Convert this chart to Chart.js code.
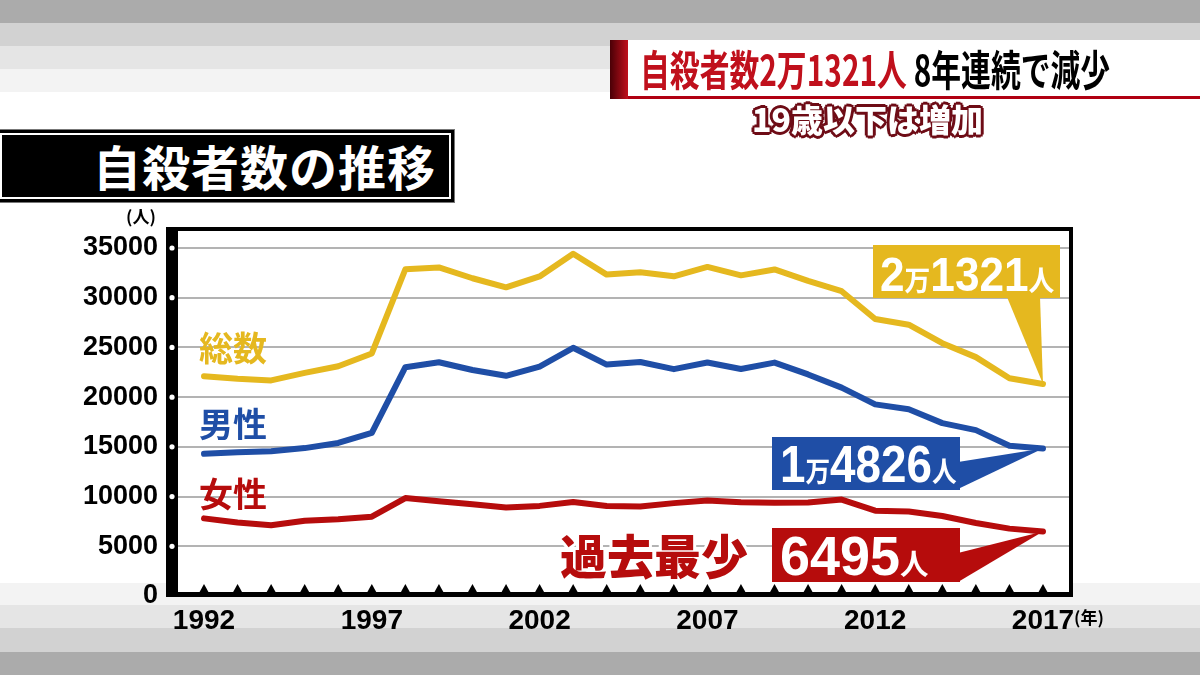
<!DOCTYPE html>
<html>
<head>
<meta charset="utf-8">
<script src="https://cdn.jsdelivr.net/npm/chart.js@4.4.1/dist/chart.umd.min.js"></script>
<style>
  html, body { margin: 0; padding: 0; }
  body {
    width: 1200px; height: 675px; position: relative; overflow: hidden;
    font-family: "Noto Sans CJK JP", sans-serif;
    background: linear-gradient(to bottom,
      #ababab 0, #ababab 23px, #d2d2d2 23px, #d2d2d2 46px,
      #e5e5e5 46px, #e5e5e5 69px, #f3f3f3 69px, #f3f3f3 92px,
      #fff 92px, #fff 583px, #f3f3f3 583px, #f3f3f3 605px,
      #e5e5e5 605px, #e5e5e5 628px, #d2d2d2 628px, #d2d2d2 652px,
      #ababab 652px);
  }
  #chart { position: absolute; left: 0; top: 0; }
  #hdr {
    position: absolute; left: 610px; top: 40px; width: 590px; height: 56px;
    background: #fff; border-bottom: 3px solid #b00012;
  }
  #hdr .bar {
    position: absolute; left: 0; top: 0; width: 18px; height: 59px;
    background: linear-gradient(to right, #4a0006, #c0101c);
  }
  #hdr .txt {
    position: absolute; left: 30px; top: 0; line-height: 56px; white-space: nowrap;
    font-size: 42px; font-weight: 700; transform: scaleX(0.71); transform-origin: left center;
  }
  #sub {
    position: absolute; left: 752px; top: 97px; white-space: nowrap;
    font-size: 32px; font-weight: 900; color: #fff; line-height: 42px;
    text-shadow: 3px 0 0 #6e0c16, -3px 0 0 #6e0c16, 0 3px 0 #6e0c16, 0 -3px 0 #6e0c16,
      2px 2px 0 #6e0c16, -2px 2px 0 #6e0c16, 2px -2px 0 #6e0c16, -2px -2px 0 #6e0c16;
  }
  #ttl {
    position: absolute; left: -4px; top: 129px; width: 459px; height: 74px;
    background: #000; border: 1px solid #777; box-sizing: border-box;
  }
  #ttl .in {
    position: absolute; left: 3px; top: 3px; right: 3px; bottom: 3px;
    border: 2px solid #fff;
  }
  #ttl .txt {
    position: absolute; right: 18px; top: 0; line-height: 70px;
    color: #fff; font-size: 48px; font-weight: 700; letter-spacing: 1px;
  }
  .unit { position: absolute; font-size: 17px; font-weight: 700; color: #000; }
</style>
</head>
<body>
<canvas id="chart" width="1200" height="675"></canvas>
<div id="hdr"><div class="bar"></div><div class="txt"><span style="color:#c0101c">自殺者数2万1321人</span> 8年連続で減少</div></div>
<div id="sub">19歳以下は増加</div>
<div id="ttl"><div class="in"></div><div class="txt">自殺者数の推移</div></div>
<div class="unit" style="left:126px;top:203px;">(人)</div>
<div class="unit" style="left:1074px;top:604px;">(年)</div>
<script>
const years = [1992, 1993, 1994, 1995, 1996, 1997, 1998, 1999, 2000, 2001, 2002, 2003, 2004,
  2005, 2006, 2007, 2008, 2009, 2010, 2011, 2012, 2013, 2014, 2015, 2016, 2017];
const total = [22104, 21851, 21679, 22445, 23104, 24391, 32863, 33048, 31957, 31042, 32143, 34427, 32325,
  32552, 32155, 33093, 32249, 32845, 31690, 30651, 27858, 27283, 25427, 24025, 21897, 21321];
const male = [14296, 14468, 14560, 14874, 15393, 16416, 23013, 23512, 22727, 22144, 23080, 24963, 23272,
  23540, 22813, 23478, 22831, 23472, 22283, 20955, 19273, 18787, 17386, 16681, 15121, 14826];
const female = [7808, 7383, 7119, 7571, 7711, 7975, 9850, 9536, 9230, 8898, 9063, 9464, 9053,
  9012, 9342, 9615, 9418, 9373, 9407, 9696, 8585, 8496, 8041, 7344, 6776, 6495];
const xTicks = [1992, 1997, 2002, 2007, 2012, 2017];
const yTicks = [0, 5000, 10000, 15000, 20000, 25000, 30000, 35000];
const seriesNames = ["総数", "男性", "女性"];

const YELLOW = "#e5b81f";
const BLUE = "#1f4ea6";
const RED = "#b60c0c";

function pts(arr) {
  return years.map(function (y, i) { return { x: y, y: arr[i] }; });
}

// draws pieces of text with different sizes on one baseline
function richText(ctx, parts, x, base, sx) {
  ctx.save();
  ctx.translate(x, base);
  ctx.scale(sx, 1);
  ctx.textBaseline = "alphabetic";
  ctx.textAlign = "left";
  let cx = 0;
  parts.forEach(function (p) {
    ctx.font = "bold " + p[1] + "px " + p[2];
    ctx.fillText(p[0], cx, 0);
    cx += ctx.measureText(p[0]).width;
  });
  ctx.restore();
}

function callout(ctx, color, box, ptr, tip) {
  ctx.fillStyle = color;
  ctx.fillRect(box[0], box[1], box[2] - box[0], box[3] - box[1]);
  ctx.beginPath();
  ctx.moveTo(ptr[0], ptr[1]);
  ctx.lineTo(ptr[2], ptr[3]);
  ctx.lineTo(tip.x, tip.y);
  ctx.closePath();
  ctx.fill();
}

const framePlugin = {
  id: "frame",
  beforeDraw(chart) {
    const ctx = chart.ctx, a = chart.chartArea;
    ctx.save();
    ctx.fillStyle = "#fff";
    ctx.fillRect(a.left - 12, a.top - 21, a.right - a.left + 16, a.bottom - a.top + 22);
    ctx.restore();
  },
  beforeDatasetsDraw(chart) {
    const ctx = chart.ctx, a = chart.chartArea;
    const sx = chart.scales.x, sy = chart.scales.y;
    const L = a.left - 12, T = a.top - 21, W = a.right - a.left + 16, B = a.bottom + 1;
    ctx.save();
    ctx.fillStyle = "#000";
    ctx.fillRect(L, T, 12, B - T);
    ctx.fillRect(L, T, W, 4);
    ctx.fillRect(a.right, T, 4, B - T);
    ctx.fillRect(L, a.bottom - 4, W, 5);
    ctx.fillStyle = "#fff";
    yTicks.forEach(function (v) {
      if (v === 0) return;
      ctx.beginPath();
      ctx.arc(a.left - 6, sy.getPixelForValue(v), 2.6, 0, Math.PI * 2);
      ctx.fill();
    });
    ctx.fillStyle = "#000";
    years.forEach(function (yr) {
      const x = sx.getPixelForValue(yr);
      ctx.beginPath();
      ctx.moveTo(x - 5, a.bottom - 3);
      ctx.lineTo(x + 5, a.bottom - 3);
      ctx.lineTo(x, a.bottom - 12);
      ctx.closePath();
      ctx.fill();
    });
    ctx.restore();
  },
  afterDatasetsDraw(chart) {
    const ctx = chart.ctx;
    const sx = chart.scales.x, sy = chart.scales.y;
    const last = years.length - 1;
    const xe = sx.getPixelForValue(years[last]);
    const NUM = "'Liberation Sans', Arial, sans-serif";
    const JP = "'Noto Sans CJK JP', sans-serif";
    ctx.save();

    // series labels
    ctx.font = "bold 34px " + JP;
    ctx.textBaseline = "middle";
    ctx.textAlign = "left";
    ctx.fillStyle = YELLOW; ctx.fillText(seriesNames[0], 199, 348);
    ctx.fillStyle = BLUE; ctx.fillText(seriesNames[1], 199, 424);
    ctx.fillStyle = RED; ctx.fillText(seriesNames[2], 199, 494);

    // callouts
    callout(ctx, YELLOW, [873, 245, 1060, 298], [1007, 297, 1040, 297], { x: xe, y: sy.getPixelForValue(total[last]) });
    callout(ctx, BLUE, [772, 437, 960, 490], [958, 462, 958, 489], { x: xe, y: sy.getPixelForValue(male[last]) });
    callout(ctx, RED, [772, 528, 960, 582], [958, 553, 958, 582], { x: xe, y: sy.getPixelForValue(female[last]) });

    ctx.fillStyle = "#fff";
    richText(ctx, [["2", 48, NUM], ["万", 28, JP], ["1321", 48, NUM], ["人", 28, JP]], 880, 291, 0.92);
    richText(ctx, [["1", 52, NUM], ["万", 28, JP], ["4826", 52, NUM], ["人", 28, JP]], 780, 482, 0.88);
    richText(ctx, [["6495", 55, NUM], ["人", 29, JP]], 780, 575, 0.98);

    // 過去最少
    ctx.font = "900 47px " + JP;
    ctx.textBaseline = "middle";
    ctx.lineJoin = "round";
    ctx.lineWidth = 6;
    ctx.strokeStyle = "#fff";
    ctx.strokeText("過去最少", 560, 556);
    ctx.fillStyle = RED;
    ctx.fillText("過去最少", 560, 556);
    ctx.restore();
  }
};

const lineStyle = {
  borderWidth: 6,
  pointRadius: 0,
  tension: 0,
  fill: false,
  borderJoinStyle: "round",
  borderCapStyle: "round"
};

new Chart(document.getElementById("chart"), {
  type: "line",
  data: {
    datasets: [
      Object.assign({ label: seriesNames[0], data: pts(total), borderColor: YELLOW }, lineStyle),
      Object.assign({ label: seriesNames[1], data: pts(male), borderColor: BLUE }, lineStyle),
      Object.assign({ label: seriesNames[2], data: pts(female), borderColor: RED }, lineStyle)
    ]
  },
  options: {
    responsive: false,
    animation: false,
    layout: { padding: { top: 248, right: 131, bottom: 0, left: 0 } },
    scales: {
      x: {
        type: "linear",
        min: 1991.225,
        max: 2017.775,
        afterBuildTicks: function (scale) {
          scale.ticks = xTicks.map(function (v) { return { value: v }; });
        },
        afterFit: function (scale) { scale.height = 79; },
        grid: { display: false },
        border: { display: false },
        ticks: {
          autoSkip: false,
          maxRotation: 0,
          padding: 0,
          color: "#000",
          font: { family: "'Liberation Sans', Arial, sans-serif", size: 28, weight: "bold" },
          callback: function (v) { return String(v); }
        }
      },
      y: {
        min: 0,
        max: 35000,
        afterBuildTicks: function (scale) {
          scale.ticks = yTicks.map(function (v) { return { value: v }; });
        },
        afterFit: function (scale) { scale.width = 178; },
        grid: { color: "#b3b3b3", lineWidth: 2, drawTicks: false },
        border: { display: false },
        ticks: {
          padding: 20,
          color: "#000",
          font: { family: "'Liberation Sans', Arial, sans-serif", size: 27, weight: "bold" },
          callback: function (v) { return String(v); }
        }
      }
    },
    plugins: {
      legend: { display: false },
      tooltip: { enabled: false }
    }
  },
  plugins: [framePlugin]
});
</script>
</body>
</html>
